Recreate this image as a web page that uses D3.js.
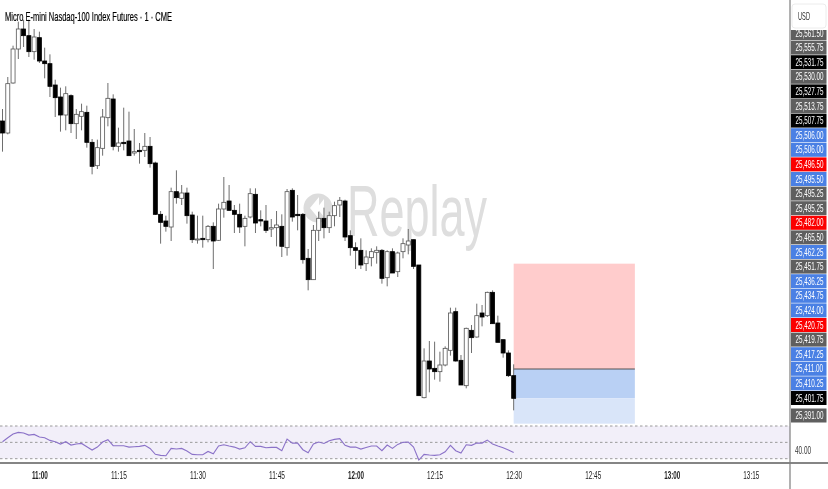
<!DOCTYPE html>
<html><head><meta charset="utf-8">
<script src="https://cdn.jsdelivr.net/npm/d3@7/dist/d3.min.js"></script>
<style>
html,body{margin:0;padding:0;background:#fff;overflow:hidden}
svg{display:block;filter:blur(0.42px)}
text{font-family:"Liberation Sans",sans-serif}
</style></head><body><div id="chart"></div>
<script>
const chartTitle = "Micro E-mini Nasdaq-100 Index Futures · 1 · CME";
const startTime = "10:53";
const base = 25000;
const opens = [504,499.5,518.25,531,538.5,536,530,535.25,526.5,525.5,517.5,513,506.25,513.5,503,505.75,507.25,496,487.25,493.75,505.25,512.25,494.5,496,496.5,492,493,493,494.5,488.25,469,466.5,464.25,477.5,475,477,468.75,459.5,460,459.5,464.5,459.25,471,474,470.5,469,464.5,468,476.5,467,466.5,463.5,464,464.5,456.5,478,469,469,452.5,444.5,463,467.5,464,468.5,472.5,474,461,456.5,455.5,450.5,452.75,454.75,455.5,445.25,455,447.5,455,457.5,459.5,450,400.25,414,411.25,410,412.5,418,432.5,414.25,404.75,425.5,423,432,431,439.75,428.25,422,417,408.5];
const closes = [499.5,518,531,538.5,536,530,535.5,526.5,525.5,517,512.75,506.25,514.25,503,506.5,507.5,496,487,494,505.5,512.5,494.5,495.75,495.5,491,492.5,492.5,494.5,488,469,466,464.5,477.5,475.25,477,468.5,459.5,459.75,459.5,464.5,459,471,473.5,470.5,469,464.25,467.5,476.75,465.75,466.5,463,464,465,457,477.5,468,468.5,452,444.5,463,467.5,464,468.5,472.25,474.25,460.5,456.5,455.5,450,453,455,455.5,445,455,447,454.5,458,459,449.5,401,414,411,410,412.5,418.75,432,414,405,426.25,422.75,431,430.5,439.75,428,421,417,408.5,400];
const highs = [508.5,520.5,532.25,541.25,542,542,538.5,537.5,531.5,529,519.5,516.5,517,514,508.5,510.5,509.75,497.25,497,508.5,518.25,514,501.5,509,507.5,501,495.75,499.5,498,488.75,470.25,468.5,479,485.5,480,479,470,468.5,468.5,465,466,473,483,480,472.5,473,468.5,478.75,478.75,470.5,472.5,467.25,470.25,469,478.5,478.75,476.25,469.5,456,465,470,471.5,470,473.75,475.5,474.5,463,458.5,460,455.5,456.25,457,456,455.5,456.25,455,460,463.5,459.5,450,418.75,421.5,421.25,417.5,419.5,434,434,416.25,426.5,427.5,435.5,435,440,440.5,431,422,418,412.75];
const lows = [492.5,499,518,527.25,531.75,528,527,525.75,520,513,505.5,500,500.5,499.5,497.25,500.5,494,484,486,491,502,493,492.5,493,491,491,488,490.5,486.5,468.75,458,462.5,459,473,472.5,465.5,458.25,458,456.5,458.5,448.5,459,467.75,470.25,462,462,457,467.5,462,464.5,462,460.5,457,453,453.5,466.25,463,450.5,440.5,444.5,459,460,462,464.5,468,459,453.5,448.5,448.5,447.75,449.5,450.5,443,442,447,445.5,452.5,454,448.5,401,400,402.25,407,406.25,412,416,413.75,405,403.75,417,422.75,427,430.5,428,421,415.25,408,395.5];
const rsiValues = [50.8,55.7,60.2,62.2,61.4,58.9,59.7,56.5,55.7,52.4,50.8,47.9,50.8,46.7,47.9,48.7,44.7,40.6,44.2,50.4,53.2,45.9,45.9,45.9,44.2,44.7,45.1,46.3,42.6,35.3,34.1,33.6,42.6,41.8,42.6,39.4,35.3,34.9,34.9,38.9,36.1,45.5,47.1,45.5,44.2,41.8,43.4,50.8,45.1,45.1,43.4,43.8,43.8,39.8,54,49.1,49.1,41,37.3,47.9,50.4,48.7,52,53.6,54.5,46.3,44.2,44.2,41.8,43.8,45.5,45.5,39.8,46.7,42.6,47.5,50,50.4,44.2,28.4,35.3,34.5,34.1,34.9,38.5,46.3,39.8,36.9,47.1,46.3,49.1,49.1,52.8,47.9,45.5,43.4,40.6,37.7];
const rsiLevels = [70,50,30];
const rsiAxisLabel = "40.00";
const timeTicks = ["11:00","11:15","11:30","11:45","12:00","12:15","12:30","12:45","13:00","13:15"];
const boldTicks = ["11:00","12:00","13:00"];
const priceLabels = ["25,561.50","25,555.75","25,531.75","25,530.00","25,527.75","25,513.75","25,507.75","25,506.00","25,506.00","25,496.50","25,495.50","25,495.25","25,495.25","25,482.00","25,465.50","25,462.25","25,451.75","25,436.25","25,434.75","25,424.00","25,420.75","25,419.75","25,417.25","25,411.00","25,410.25","25,401.75","25,391.00"];
const labelKinds = ["g","g","k","g","k","g","k","b","b","r","b","g","g","r","g","b","g","b","b","b","r","g","b","b","b","k","g"];
const positionStart = "12:30", positionEnd = "12:53";
const positionLevels = {target:25450.5, entry:25411, current:25400, stop:25390.5};

const W=828,H=489,paneR=790;
const parse=d3.utcParse("%H:%M");
const t0=parse(startTime);
const timeAt=i=>new Date(+t0+i*60000);
const x=d3.scaleUtc().domain([parse("11:00"),parse("13:15")]).range([39.4,750.8]);
const y=d3.scaleLinear().domain([25549.375,25390.375]).range([0,424]);
const yR=d3.scaleLinear().domain([70,30]).range([426,458.7]);
const svg=d3.select("#chart").append("svg").attr("width",W).attr("height",H);
svg.append("rect").attr("width",W).attr("height",H).attr("fill","#fff");

// watermark
const wm=svg.append("g");
wm.append("circle").attr("cx",318).attr("cy",208).attr("r",14.5).attr("fill","#dcdcdc");
wm.append("path").attr("d","M310 208 L319 197 L319 219 Z M317 208 L324 199 L324 217 Z").attr("fill","#fff");
wm.append("text").attr("transform","translate(347,236) scale(0.625,1)").attr("font-size",72).attr("fill","#dedede").text("Replay");

// position tool
const px0=x(parse(positionStart)),px1=x(parse(positionEnd));
const zones=[[positionLevels.target,positionLevels.entry,"#ffcccc"],[positionLevels.entry,positionLevels.current,"#b9d0f4"],[positionLevels.current,positionLevels.stop,"#d9e5f9"]];
svg.append("g").selectAll("rect").data(zones).join("rect")
  .attr("x",px0).attr("width",px1-px0).attr("y",d=>y(d[0])).attr("height",d=>y(d[1])-y(d[0])).attr("fill",d=>d[2]);
svg.append("line").attr("x1",px0).attr("x2",px1).attr("y1",y(positionLevels.entry)).attr("y2",y(positionLevels.entry)).attr("stroke","#444").attr("stroke-width",0.9);

// candles
const idx=d3.range(opens.length);
const g=svg.append("g");
g.selectAll("line.w").data(idx).join("line").attr("class","w")
  .attr("x1",i=>x(timeAt(i))).attr("x2",i=>x(timeAt(i)))
  .attr("y1",i=>y(base+highs[i])).attr("y2",i=>y(base+lows[i]))
  .attr("stroke","#6e6e6e").attr("stroke-width",1);
g.selectAll("rect.b").data(idx).join("rect").attr("class","b")
  .attr("x",i=>x(timeAt(i))-2).attr("width",4)
  .attr("y",i=>y(base+Math.max(opens[i],closes[i])))
  .attr("height",i=>Math.max(1,Math.abs(y(base+opens[i])-y(base+closes[i]))))
  .attr("fill",i=>closes[i]<opens[i]?"#000":"#fff")
  .attr("stroke",i=>closes[i]<opens[i]?"#000":"#555").attr("stroke-width",0.8);

// RSI pane
svg.append("rect").attr("x",0).attr("width",paneR).attr("y",yR(70)).attr("height",yR(30)-yR(70)).attr("fill","#f2eff9");
svg.append("g").selectAll("line").data(rsiLevels).join("line")
  .attr("x1",0).attr("x2",paneR).attr("y1",d=>yR(d)).attr("y2",d=>yR(d))
  .attr("stroke","#9a9a9a").attr("stroke-width",1).attr("stroke-dasharray","2.5 2.5");
svg.append("path").datum(idx).attr("fill","none").attr("stroke","#8b72c8").attr("stroke-width",1.1)
  .attr("d",d3.line().x(i=>x(timeAt(i))).y(i=>yR(rsiValues[i])));

// frame lines
svg.append("line").attr("x1",0).attr("x2",W).attr("y1",463).attr("y2",463).attr("stroke","#858585").attr("stroke-width",2);
svg.append("line").attr("x1",paneR).attr("x2",paneR).attr("y1",0).attr("y2",H).attr("stroke","#7d7d7d").attr("stroke-width",1.2);

// time axis
const ax=svg.append("g").attr("transform","translate(0,463)").call(d3.axisBottom(x).tickValues(timeTicks.map(parse)).tickSize(0).tickFormat(d3.utcFormat("%H:%M")));
ax.select(".domain").remove();
ax.selectAll("text").attr("y",8).attr("font-size",11).attr("fill","#222")
  .attr("textLength",16).attr("lengthAdjust","spacingAndGlyphs")
  .style("font-family","'Liberation Sans',sans-serif")
  .attr("font-weight",d=>boldTicks.includes(d3.utcFormat("%H:%M")(d))?"700":"400");

// title
svg.append("text").attr("x",5).attr("y",20.5).attr("font-size",13).attr("textLength",167).attr("lengthAdjust","spacingAndGlyphs").attr("fill","#000").attr("stroke","#000").attr("stroke-width",0.2).text(chartTitle);

// price labels
const kindFill={g:"#5f5f5f",k:"#000",b:"#4a80e4",r:"#fb0000"};
const labelY=i=>i===priceLabels.length-1?415.5:33+14.6*i;
const lg=svg.append("g").selectAll("g").data(priceLabels).join("g").attr("transform",(d,i)=>`translate(791,${labelY(i)})`);
lg.append("rect").attr("x",0).attr("y",-7).attr("width",35.5).attr("height",14).attr("fill",(d,i)=>kindFill[labelKinds[i]]);
lg.append("text").attr("transform","translate(4.5,3.6) scale(0.63,1)").attr("font-size",10).attr("fill","#fff").text(d=>d);

// USD chip
svg.append("rect").attr("x",791).attr("y",0).attr("width",37).attr("height",30).attr("fill","#fff");
svg.append("rect").attr("x",792).attr("y",4).attr("width",34).attr("height",24).attr("rx",3).attr("fill","#fff").attr("stroke","#ececec");
svg.append("text").attr("x",798).attr("y",20).attr("font-size",11.5).attr("textLength",12).attr("lengthAdjust","spacingAndGlyphs").attr("fill","#333").text("USD");
svg.append("text").attr("x",795).attr("y",454).attr("font-size",10.5).attr("textLength",16).attr("lengthAdjust","spacingAndGlyphs").attr("fill","#333").text(rsiAxisLabel);
</script></body></html>
